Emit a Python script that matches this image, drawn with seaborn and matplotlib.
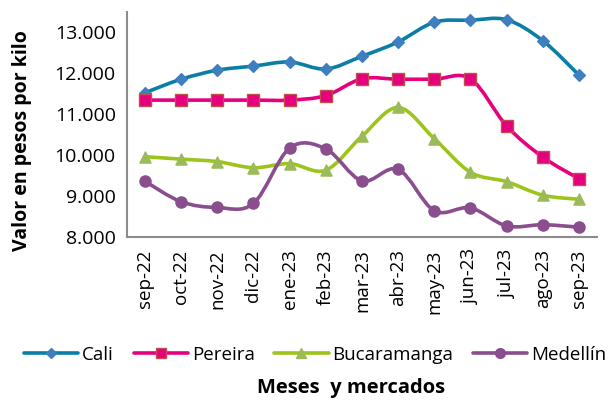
import numpy as np
import pandas as pd
import matplotlib
matplotlib.use("Agg")
import matplotlib.pyplot as plt
import seaborn as sns
from matplotlib.path import Path
from matplotlib.patches import PathPatch
from matplotlib.lines import Line2D

# Data
meses = ["sep-22", "oct-22", "nov-22", "dic-22", "ene-23", "feb-23", "mar-23",
         "abr-23", "may-23", "jun-23", "jul-23", "ago-23", "sep-23"]
cali = [11520, 11850, 12070, 12170, 12270, 12100, 12410, 12760, 13240, 13290, 13300, 12790, 11950]
pereira = [11340, 11340, 11340, 11340, 11340, 11450, 11860, 11850, 11850, 11860, 10710, 9950, 9420]
bucaramanga = [9960, 9900, 9840, 9690, 9790, 9630, 10460, 11160, 10400, 9580, 9350, 9020, 8920]
medellin = [9360, 8860, 8720, 8820, 10170, 10150, 9370, 9650, 8640, 8710, 8270, 8300, 8240]

series = [
    ("Cali", cali, "#0A7EA4", "D", "#3F7FC0", "#3F7FC0", 6),
    ("Pereira", pereira, "#E6007E", "s", "#E6007E", "#C0504D", 8),
    ("Bucaramanga", bucaramanga, "#9DC41D", "^", "#9BBB59", "#9BBB59", 8),
    ("Medellín", medellin, "#8A4E8E", "o", "#8A4E8E", "#8A4E8E", 8),
]


def smooth_path(x, y, t=1 / 6):
    # Excel-like smoothed line: cubic bezier segments through the points
    x = np.asarray(x, float)
    y = np.asarray(y, float)
    n = len(x)
    verts = [(x[0], y[0])]
    codes = [Path.MOVETO]
    for i in range(n - 1):
        p0 = np.array([x[max(i - 1, 0)], y[max(i - 1, 0)]])
        p1 = np.array([x[i], y[i]])
        p2 = np.array([x[i + 1], y[i + 1]])
        p3 = np.array([x[min(i + 2, n - 1)], y[min(i + 2, n - 1)]])
        c1 = p1 + (p2 - p0) * t
        c2 = p2 - (p3 - p1) * t
        verts += [tuple(c1), tuple(c2), tuple(p2)]
        codes += [Path.CURVE4] * 3
    return Path(verts, codes)


sns.set_style("white")
plt.rcParams["font.family"] = ["Open Sans", "DejaVu Sans"]
plt.rcParams["text.color"] = "black"
plt.rcParams["axes.labelcolor"] = "black"
plt.rcParams["xtick.color"] = "black"
plt.rcParams["ytick.color"] = "black"

fig = plt.figure(figsize=(6.13, 4.0), dpi=100)
ax = fig.add_axes([0.207, 0.4075, 0.767, 0.5625])

idx = np.arange(len(meses))
handles = []
for name, vals, lc, mk, mfc, mec, ms in series:
    ax.add_patch(PathPatch(smooth_path(idx, vals), fill=False, edgecolor=lc, lw=2.6, zorder=2))
    df = pd.DataFrame({"x": idx, "y": vals})
    sns.scatterplot(data=df, x="x", y="y", marker=mk, s=ms ** 2, color=mfc,
                    edgecolor=mec, linewidth=1, ax=ax, zorder=3)
    handles.append(Line2D([], [], color=lc, lw=2.6, marker=mk, markersize=ms - 1,
                          markerfacecolor=mfc, markeredgecolor=mec, label=name))

ax.set_xlim(-0.5, len(meses) - 0.5)
ax.set_ylim(8000, 13490)
ax.set_yticks(range(8000, 13001, 1000))
ax.set_yticklabels([f"{v // 1000}.000" for v in range(8000, 13001, 1000)], fontsize=14)
ax.set_xticks(idx)
ax.set_xticklabels(meses, rotation=90, fontsize=13.5)
ax.tick_params(axis="y", length=0, pad=8)
ax.tick_params(axis="x", length=0, pad=9)
ax.set_xlabel("")
ax.set_ylabel("Valor en pesos por kilo", fontsize=14, fontweight="bold")
ax.yaxis.set_label_coords(-0.202, 0.43)
for s in ["top", "right"]:
    ax.spines[s].set_visible(False)
for s in ["left", "bottom"]:
    ax.spines[s].set_color("#8C8C8C")
    ax.spines[s].set_linewidth(1.5)

fig.legend(handles=handles, loc="center", bbox_to_anchor=(0.514, 0.1125), ncol=4, frameon=False,
           fontsize=13.5, handlelength=2.9, handletextpad=0.2, columnspacing=1.05)
fig.text(0.573, 0.03, "Meses  y mercados", ha="center", va="center", fontsize=14.5, fontweight="bold")

fig.savefig("out.png", dpi=100)
